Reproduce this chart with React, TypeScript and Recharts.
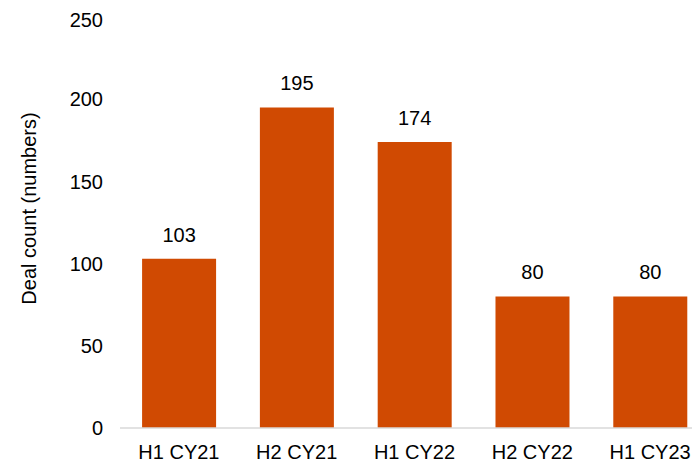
import React from 'react';
import { BarChart, Bar, XAxis, YAxis, LabelList, Label } from 'recharts';

const categories = ['H1 CY21', 'H2 CY21', 'H1 CY22', 'H2 CY22', 'H1 CY23'];
const dealCounts = [103, 195, 174, 80, 80];
const yTicks = [0, 50, 100, 150, 200, 250];

const data = categories.map((c, i) => ({ period: c, deals: dealCounts[i] }));

const FONT = '"Liberation Sans", Arial, sans-serif';

const YLabel = (props: any) => {
  const vb = props.viewBox || { x: 0, y: 0, width: 112, height: 411 };
  const cx = vb.x + 21;
  const cy = vb.y + vb.height / 2 - 14;
  return (
    <text
      x={cx}
      y={cy}
      transform={`rotate(-90, ${cx}, ${cy})`}
      textAnchor="middle"
      dominantBaseline="central"
      fontSize={20}
      fontFamily={FONT}
      fill="#000"
    >
      Deal count (numbers)
    </text>
  );
};

export default function App() {
  return (
    <div style={{ width: 692, height: 456, overflow: 'hidden' }}>
      <BarChart
        width={701}
        height={456}
        data={data}
        margin={{ top: 9, right: 0, bottom: 0, left: 0 }}
        barCategoryGap="18.75%"
        style={{ fontFamily: FONT }}
      >
        <XAxis
          dataKey="period"
          height={36}
          tickSize={0}
          tickMargin={17}
          tickLine={false}
          axisLine={{ stroke: '#d9d9d9', strokeWidth: 1.5 }}
          tick={{ fontSize: 20, fill: '#000', fontFamily: FONT }}
          interval={0}
        />
        <YAxis
          width={112}
          domain={[0, 250]}
          ticks={yTicks}
          tickSize={0}
          tickMargin={17}
          tickLine={false}
          axisLine={false}
          tick={{ fontSize: 20, fill: '#000', fontFamily: FONT }}
        >
          <Label content={<YLabel />} position="insideLeft" />
        </YAxis>
        <Bar dataKey="deals" fill="#D04A02" isAnimationActive={false}>
          <LabelList
            dataKey="deals"
            position="top"
            offset={17}
            style={{ fontSize: 20, fill: '#000', fontFamily: FONT }}
          />
        </Bar>
      </BarChart>
    </div>
  );
}
